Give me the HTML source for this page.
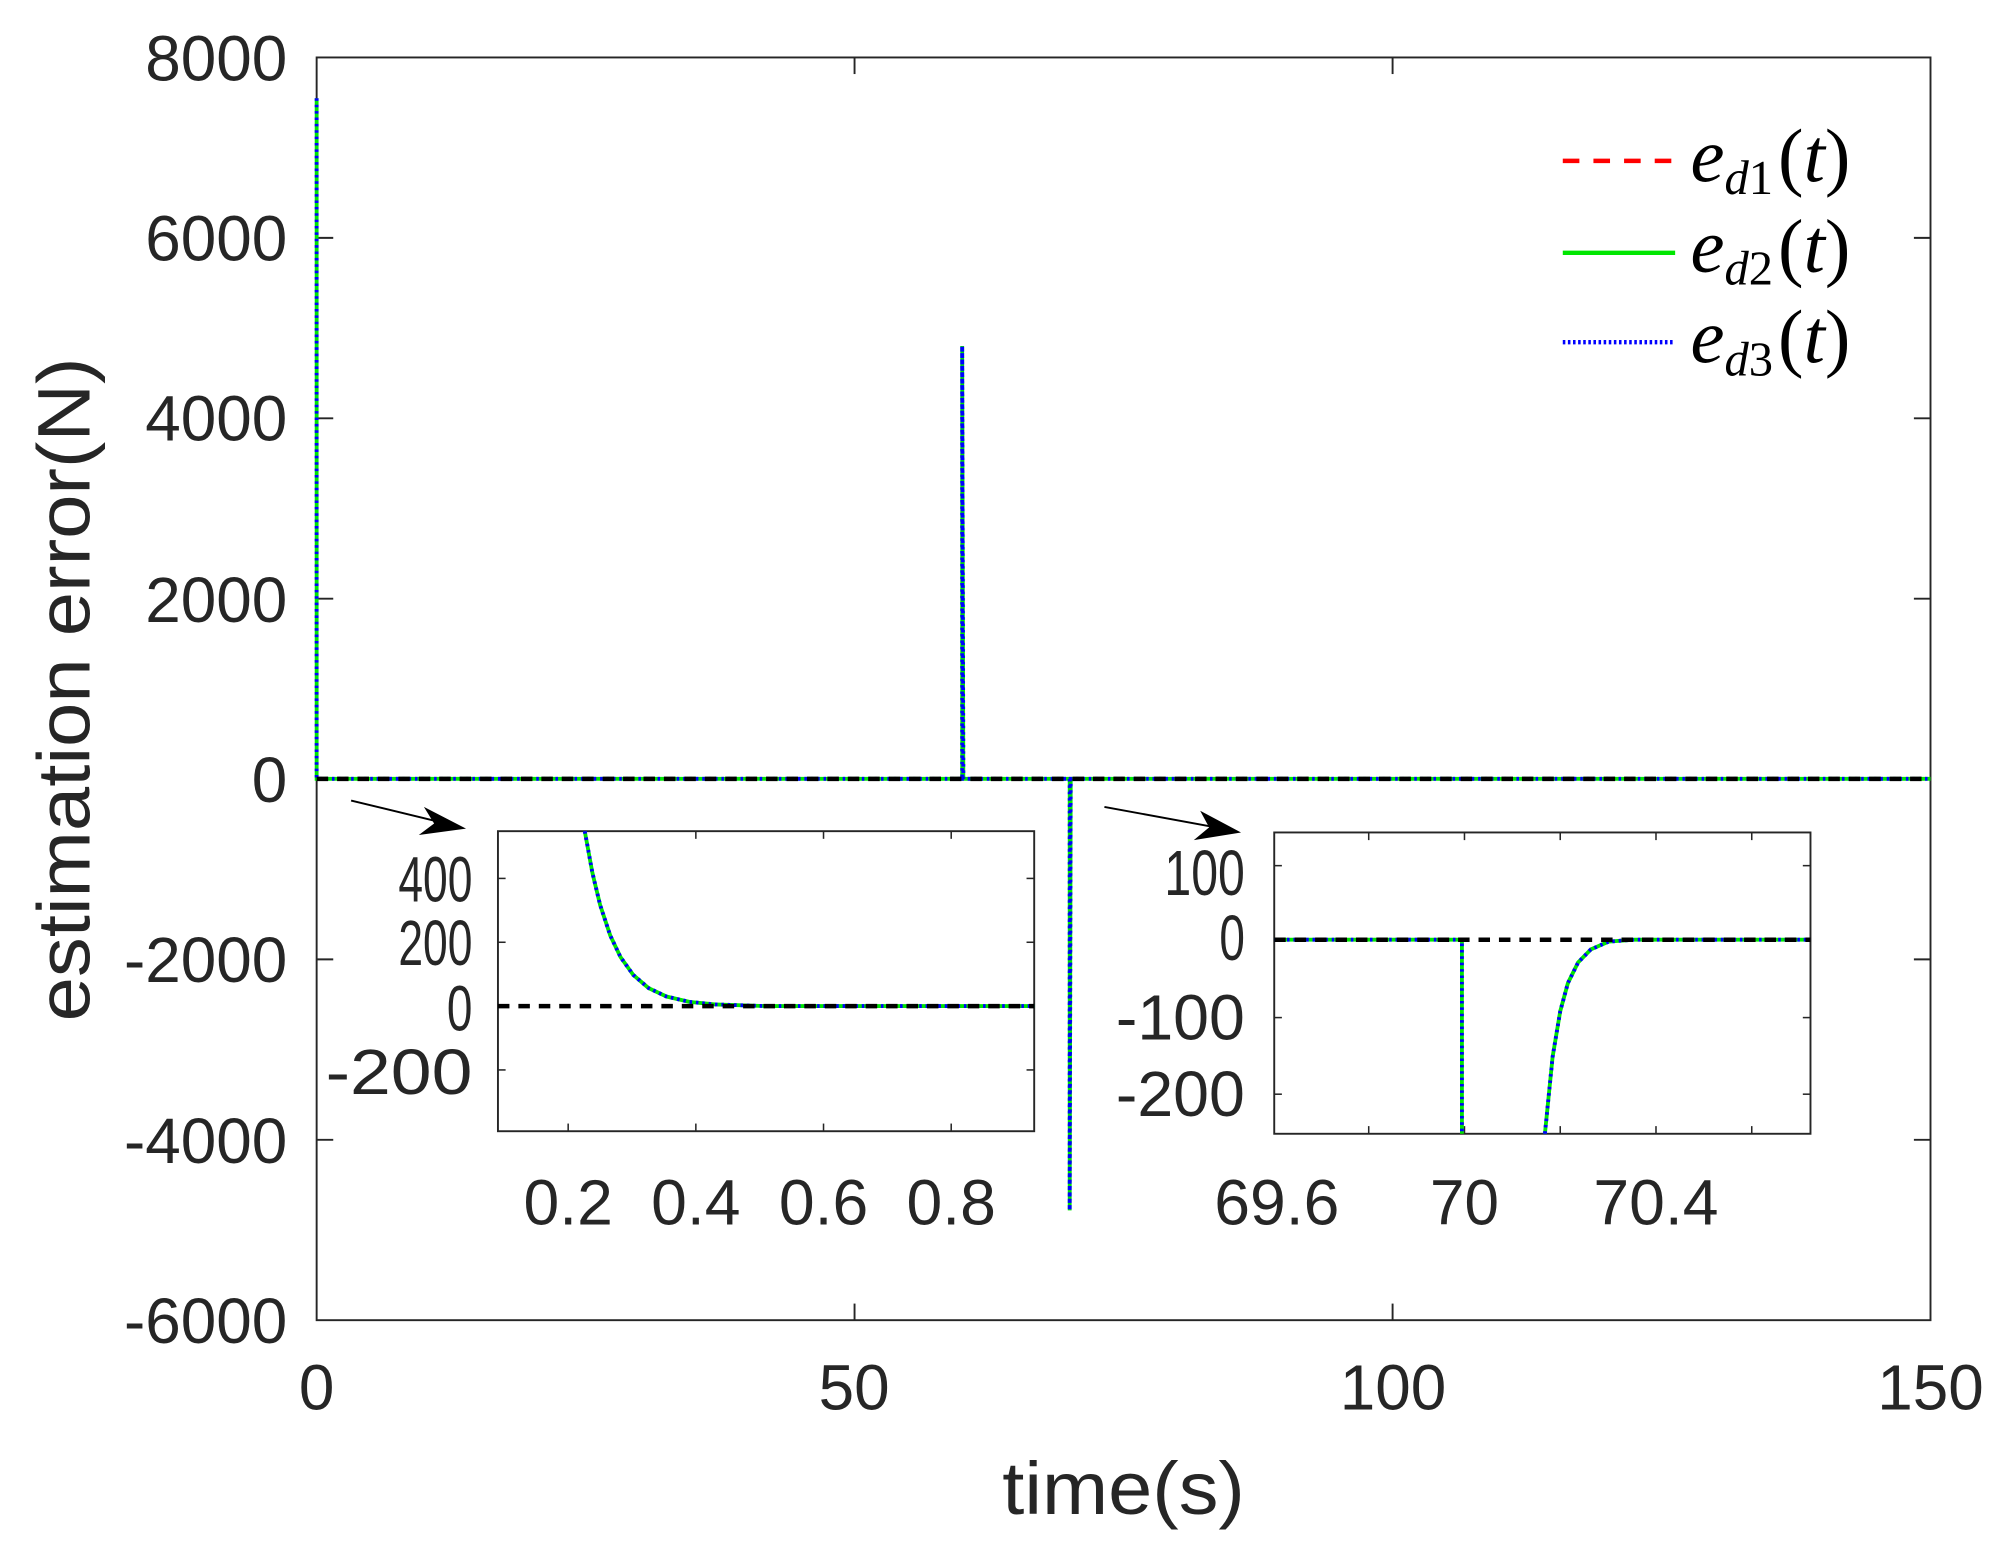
<!DOCTYPE html>
<html><head><meta charset="utf-8"><style>html,body{margin:0;padding:0;background:#fff}svg{display:block}</style></head>
<body>
<svg width="2002" height="1550" viewBox="0 0 1568 1214" preserveAspectRatio="none" xmlns="http://www.w3.org/2000/svg" font-family="Liberation Sans, Arial, sans-serif" fill="#262626">
<rect width="1568" height="1214" fill="#fff"/>
<rect x="248" y="45" width="1264" height="989" fill="none" stroke="#262626" stroke-width="1.5"/>
<g stroke="#262626" stroke-width="1.5">
<line x1="669.3" y1="1034" x2="669.3" y2="1021"/><line x1="1090.7" y1="1034" x2="1090.7" y2="1021"/>
<line x1="669.3" y1="45" x2="669.3" y2="58"/><line x1="1090.7" y1="45" x2="1090.7" y2="58"/>
<line x1="248" y1="186.3" x2="261" y2="186.3"/><line x1="248" y1="327.6" x2="261" y2="327.6"/><line x1="248" y1="468.9" x2="261" y2="468.9"/><line x1="248" y1="751.4" x2="261" y2="751.4"/><line x1="248" y1="892.7" x2="261" y2="892.7"/>
<line x1="1512" y1="186.3" x2="1499" y2="186.3"/><line x1="1512" y1="327.6" x2="1499" y2="327.6"/><line x1="1512" y1="468.9" x2="1499" y2="468.9"/><line x1="1512" y1="751.4" x2="1499" y2="751.4"/><line x1="1512" y1="892.7" x2="1499" y2="892.7"/>
</g>
<g font-size="50" text-anchor="end">
<text x="225" y="63">8000</text><text x="225" y="204">6000</text><text x="225" y="345">4000</text><text x="225" y="487">2000</text><text x="225" y="628">0</text><text x="225" y="769">-2000</text><text x="225" y="911">-4000</text><text x="225" y="1052">-6000</text>
</g>
<g font-size="50" text-anchor="middle">
<text x="248" y="1104">0</text><text x="669" y="1104">50</text><text x="1091" y="1104">100</text><text x="1512" y="1104">150</text>
</g>
<text x="785" y="1186" font-size="58" textLength="190" lengthAdjust="spacingAndGlyphs">time(s)</text>
<text transform="translate(70,800) rotate(-90)" font-size="58" textLength="520" lengthAdjust="spacingAndGlyphs">estimation error(N)</text>
<g fill="none" stroke-width="3">
<path d="M248,77 L248,610 L753.6,610 L753.6,271 L754.5,610 L837.8,610 L837.8,948 L838.6,610 L1512,610" stroke="#00e600"/>
<path d="M248,77 L248,610 L753.6,610 L753.6,271 L754.5,610 L837.8,610 L837.8,948 L838.6,610 L1512,610" stroke="#0000ff" stroke-dasharray="2 3"/>
<line x1="248" y1="610" x2="1512" y2="610" stroke="#000" stroke-width="3.5" stroke-dasharray="9 7"/>
</g>
<line x1="275" y1="627" x2="345" y2="644" stroke="#000" stroke-width="1.5"/>
<polygon points="365,649 332,632 340,645 328,654" fill="#000"/>
<line x1="865" y1="632" x2="952" y2="648" stroke="#000" stroke-width="1.5"/>
<polygon points="972,652 940,635 947,648 935,658" fill="#000"/>
<g stroke-width="3.5">
<line x1="1224" y1="126" x2="1312" y2="126" stroke="#ff0000" stroke-dasharray="13 11"/>
<line x1="1224" y1="198" x2="1312" y2="198" stroke="#00e600"/>
<line x1="1224" y1="268" x2="1312" y2="268" stroke="#0000ff" stroke-dasharray="2 2"/>
</g>
<g font-family="Liberation Serif, serif" fill="#000" font-size="60">
<text x="1324" y="142"><tspan font-style="italic">e</tspan><tspan font-size="38" dy="10" font-style="italic">d</tspan><tspan font-size="38">1</tspan><tspan dy="-10" dx="4">(</tspan><tspan font-style="italic">t</tspan>)</text>
<text x="1324" y="213"><tspan font-style="italic">e</tspan><tspan font-size="38" dy="10" font-style="italic">d</tspan><tspan font-size="38">2</tspan><tspan dy="-10" dx="4">(</tspan><tspan font-style="italic">t</tspan>)</text>
<text x="1324" y="284"><tspan font-style="italic">e</tspan><tspan font-size="38" dy="10" font-style="italic">d</tspan><tspan font-size="38">3</tspan><tspan dy="-10" dx="4">(</tspan><tspan font-style="italic">t</tspan>)</text>
</g>
<rect x="390" y="651" width="420" height="235" fill="#fff" stroke="#262626" stroke-width="1.5"/>
<g stroke="#262626" stroke-width="1.2">
<line x1="445" y1="886" x2="445" y2="880"/><line x1="545" y1="886" x2="545" y2="880"/><line x1="645" y1="886" x2="645" y2="880"/><line x1="745" y1="886" x2="745" y2="880"/>
<line x1="545" y1="651" x2="545" y2="657"/><line x1="645" y1="651" x2="645" y2="657"/><line x1="745" y1="651" x2="745" y2="657"/>
<line x1="390" y1="688" x2="396" y2="688"/><line x1="390" y1="738" x2="396" y2="738"/><line x1="390" y1="838" x2="396" y2="838"/>
<line x1="810" y1="688" x2="804" y2="688"/><line x1="810" y1="738" x2="804" y2="738"/><line x1="810" y1="838" x2="804" y2="838"/>
</g>
<g font-size="50">
<text x="312" y="706" textLength="58" lengthAdjust="spacingAndGlyphs">400</text>
<text x="312" y="756" textLength="58" lengthAdjust="spacingAndGlyphs">200</text>
<text x="350" y="807" textLength="20" lengthAdjust="spacingAndGlyphs">0</text>
<text x="255" y="857" textLength="115" lengthAdjust="spacingAndGlyphs">-200</text>
<text x="410" y="959" textLength="70" lengthAdjust="spacingAndGlyphs">0.2</text>
<text x="510" y="959" textLength="70" lengthAdjust="spacingAndGlyphs">0.4</text>
<text x="610" y="959" textLength="70" lengthAdjust="spacingAndGlyphs">0.6</text>
<text x="710" y="959" textLength="70" lengthAdjust="spacingAndGlyphs">0.8</text>
</g>
<g fill="none" stroke-width="3">
<path d="M458,651 L464,683.7 L470,708.7 L478,732.8 L486,749.6 L496,763.6 L508,773.9 L522,780.5 L540,784.7 L560,786.7 L600,788 L810,788" stroke="#00e600"/>
<path d="M458,651 L464,683.7 L470,708.7 L478,732.8 L486,749.6 L496,763.6 L508,773.9 L522,780.5 L540,784.7 L560,786.7 L600,788 L810,788" stroke="#0000ff" stroke-dasharray="2 3"/>
<line x1="390" y1="788" x2="810" y2="788" stroke="#000" stroke-width="3.5" stroke-dasharray="9 7"/>
</g>
<rect x="998" y="652" width="420" height="236" fill="#fff" stroke="#262626" stroke-width="1.5"/>
<g stroke="#262626" stroke-width="1.2">
<line x1="1072" y1="888" x2="1072" y2="882"/><line x1="1147" y1="888" x2="1147" y2="882"/><line x1="1222" y1="888" x2="1222" y2="882"/><line x1="1297" y1="888" x2="1297" y2="882"/><line x1="1372" y1="888" x2="1372" y2="882"/>
<line x1="1072" y1="652" x2="1072" y2="658"/><line x1="1147" y1="652" x2="1147" y2="658"/><line x1="1222" y1="652" x2="1222" y2="658"/><line x1="1297" y1="652" x2="1297" y2="658"/><line x1="1372" y1="652" x2="1372" y2="658"/>
<line x1="998" y1="678" x2="1004" y2="678"/><line x1="998" y1="797" x2="1004" y2="797"/><line x1="998" y1="857" x2="1004" y2="857"/>
<line x1="1418" y1="678" x2="1412" y2="678"/><line x1="1418" y1="797" x2="1412" y2="797"/><line x1="1418" y1="857" x2="1412" y2="857"/>
</g>
<g font-size="50">
<text x="912" y="701" textLength="63" lengthAdjust="spacingAndGlyphs">100</text>
<text x="955" y="752" textLength="20" lengthAdjust="spacingAndGlyphs">0</text>
<text x="874" y="814" textLength="101" lengthAdjust="spacingAndGlyphs">-100</text>
<text x="874" y="874" textLength="101" lengthAdjust="spacingAndGlyphs">-200</text>
<text x="951" y="959" textLength="98" lengthAdjust="spacingAndGlyphs">69.6</text>
<text x="1120" y="959" textLength="54" lengthAdjust="spacingAndGlyphs">70</text>
<text x="1248" y="959" textLength="98" lengthAdjust="spacingAndGlyphs">70.4</text>
</g>
<g fill="none" stroke-width="3">
<path d="M998,736 L1145,736 L1145,888 M1210,888 L1216,828 L1222,792 L1228,770 L1236,753.8 L1246,743.6 L1260,737.5 L1280,736 L1418,736" stroke="#00e600"/>
<path d="M998,736 L1145,736 L1145,888 M1210,888 L1216,828 L1222,792 L1228,770 L1236,753.8 L1246,743.6 L1260,737.5 L1280,736 L1418,736" stroke="#0000ff" stroke-dasharray="2 3"/>
<line x1="998" y1="736" x2="1418" y2="736" stroke="#000" stroke-width="3.5" stroke-dasharray="9 7"/>
</g>
</svg>
</body></html>
